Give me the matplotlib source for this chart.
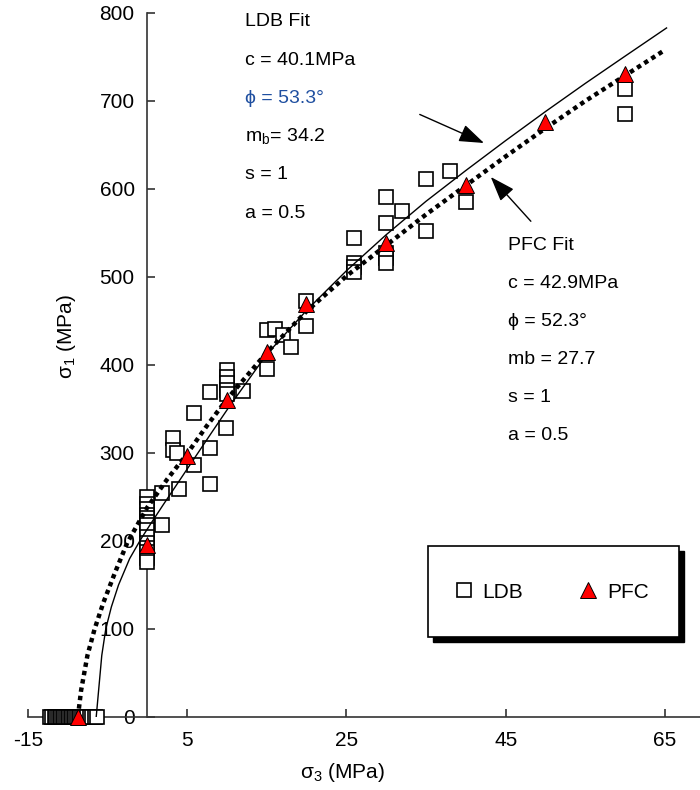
import matplotlib
matplotlib.use("Agg")
import matplotlib.pyplot as plt
from matplotlib.lines import Line2D
from matplotlib.patches import Rectangle

plt.rcParams["font.family"] = ["Liberation Sans", "DejaVu Sans"]
plt.rcParams["mathtext.fontset"] = "custom"
plt.rcParams["mathtext.rm"] = "Liberation Sans"
plt.rcParams["axes.unicode_minus"] = False

# ----------------------------
# DATA
# ----------------------------
# LDB test results (sigma3, sigma1)
ldb_s3 = [-12.2, -11.9, -11.6, -11.4, -11.2, -11.0, -10.8, -10.6, -10.4, -10.2,
          -10.0, -9.8, -9.6, -9.4, -9.2, -9.0, -8.8, -8.6, -8.4, -8.2,
          -7.9, -7.6, -7.2, -6.9, -6.6, -6.3,
          0, 0, 0, 0, 0, 0, 0, 0, 0, 0, 0, 0, 0, 0,
          1.9, 1.9, 4.0, 7.9, 5.9, 7.9, 3.3, 3.2, 3.7, 5.9, 9.9, 7.9, 12.0,
          10, 10, 10, 10, 10, 15, 15, 16.1, 17, 18, 20, 20,
          26, 26, 26, 26, 30, 30, 30, 30, 30, 32, 35, 38, 35, 40, 60, 60]
ldb_s1 = [0, 0, 0, 0, 0, 0, 0, 0, 0, 0,
          0, 0, 0, 0, 0, 0, 0, 0, 0, 0,
          0, 0, 0, 0, 0, 0,
          250, 242, 236, 230, 226, 222, 218, 212, 205, 198, 192, 187, 181, 176,
          255, 218, 259, 265, 286, 306, 317, 303, 300, 345, 328, 369, 371,
          394, 386, 379, 372, 367, 395, 440, 441, 434, 421, 473, 444,
          544, 516, 511, 506, 591, 561, 527, 522, 516, 575, 611, 620, 552, 585, 714, 685]

# PFC results
pfc_s3 = [-8.7, 0, 5, 10, 15, 20, 30, 40, 50, 60]
pfc_s1 = [0, 196, 297, 360, 415, 469, 539, 604, 676, 731]

# LDB fit curve (thin solid)
ldb_fit_s3 = [-6.4, -6.1, -5.7, -5.2, -4.5, -3.6, -2.2, -0.8, 0.4, 2, 4, 6, 8,
              10.4, 15, 20, 25, 30, 35, 40, 45, 50, 55, 60, 65.2]
ldb_fit_s1 = [0, 30, 70, 100, 125, 150, 180, 202, 219, 241, 268, 295, 322,
              354, 412, 462, 507, 548, 586, 621, 655, 688, 720, 751, 783]

# PFC fit curve (thick dotted)
pfc_fit_s3 = [-8.7, -8.3, -7.5, -6.6, -5.5, -4.0, -2.5, -1.0, 0, 2.5, 5, 7.5,
              10, 15, 20, 25, 30, 35, 40, 45, 50, 55, 60, 65]
pfc_fit_s1 = [0, 30, 70, 100, 130, 165, 198, 222, 238, 270, 299, 331,
              361, 414, 461, 501, 536, 571, 604, 637, 669, 700, 729, 758]

x_ticks = [-15, 5, 25, 45, 65]
y_ticks = [0, 100, 200, 300, 400, 500, 600, 700, 800]

ldb_lines = ["LDB Fit", "c = 40.1MPa", "\u03d5 = 53.3\u00b0",
             r"m$_{\mathregular{b}}$= 34.2", "s = 1", "a = 0.5"]
pfc_lines = ["PFC Fit", "c = 42.9MPa", "\u03d5 = 52.3\u00b0",
             "mb = 27.7", "s = 1", "a = 0.5"]

# ----------------------------
# FIGURE
# ----------------------------
fig = plt.figure(figsize=(7, 7.9), dpi=100)
ax = fig.add_axes([27.7 / 700, 73 / 790, (700 - 27.7) / 700, 704 / 790])
ax.set_xlim(-15, 69.4)
ax.set_ylim(0, 800)

ax.spines["top"].set_visible(False)
ax.spines["right"].set_visible(False)
ax.spines["left"].set_position(("data", 0))
for sp in ("left", "bottom"):
    ax.spines[sp].set_color("#333333")
    ax.spines[sp].set_linewidth(1.2)

ax.set_xticks(x_ticks)
ax.set_yticks(y_ticks)
ax.tick_params(axis="both", direction="in", length=6, width=1.2,
               color="#333333", labelsize=15)
ax.tick_params(axis="x", pad=10)
ax.tick_params(axis="y", pad=9)

ax.plot(ldb_s3, ldb_s1, ls="none", marker="s", ms=10.5, mfc="white",
        mec="black", mew=1.2, clip_on=False, zorder=3)
ax.plot(ldb_fit_s3, ldb_fit_s1, color="black", lw=1.0, zorder=4)
ax.plot(pfc_fit_s3, pfc_fit_s1, color="black", lw=3.2, ls=(0, (1, 0.9)),
        zorder=4)
ax.plot(pfc_s3, pfc_s1, ls="none", marker="^", ms=11, mfc="#ff0000",
        mec="black", mew=0.7, clip_on=False, zorder=5)

# fit parameter text
for i, t in enumerate(ldb_lines):
    ax.text(12.3, 790 - i * 43.5, t, fontsize=14, va="center", ha="left",
            color="#1f4fa0" if i == 2 else "black")
for i, t in enumerate(pfc_lines):
    ax.text(45.3, 536 - i * 43.2, t, fontsize=14, va="center", ha="left")

arrow = dict(arrowstyle="-|>,head_length=0.7,head_width=0.25", color="black",
             lw=1.0, mutation_scale=22)
ax.annotate("", xy=(42.6, 651), xytext=(33.9, 686), arrowprops=arrow)
ax.annotate("", xy=(42.9, 616), xytext=(48.4, 561), arrowprops=arrow)

# axis labels
fig.text(67 / 700, 1 - 336 / 790, "\u03c3$_{\mathregular{1}}$ (MPa)",
         rotation=90, ha="center", va="center", fontsize=15)
fig.text(343 / 700, 1 - 773 / 790, "\u03c3$_{\mathregular{3}}$ (MPa)",
         ha="center", va="center", fontsize=15)

# legend box with hard black shadow
W, H = 700, 790
bx0, bx1, by0, by1 = 428, 679, 546, 637
fig.patches.append(Rectangle(((bx0 + 5) / W, 1 - (by1 + 5) / H),
                             (bx1 - bx0) / W, (by1 - by0) / H,
                             transform=fig.transFigure, facecolor="black",
                             edgecolor="black", zorder=6))
fig.patches.append(Rectangle((bx0 / W, 1 - by1 / H),
                             (bx1 - bx0) / W, (by1 - by0) / H,
                             transform=fig.transFigure, facecolor="white",
                             edgecolor="black", lw=1.2, zorder=7))
handles = [
    Line2D([], [], ls="none", marker="s", ms=9.5, mfc="white", mec="black", mew=1.2),
    Line2D([], [], ls="none", marker="^", ms=11, mfc="#ff0000", mec="black", mew=0.7),
]
leg = fig.legend(handles, ["LDB", "PFC"], ncol=2, fontsize=15, frameon=False,
                 borderpad=0, handlelength=1.0, handletextpad=0.4,
                 columnspacing=2.62, loc="center",
                 bbox_to_anchor=(551 / W, 1 - 592 / H))
leg.set_zorder(8)

fig.savefig("out.png", dpi=100)
